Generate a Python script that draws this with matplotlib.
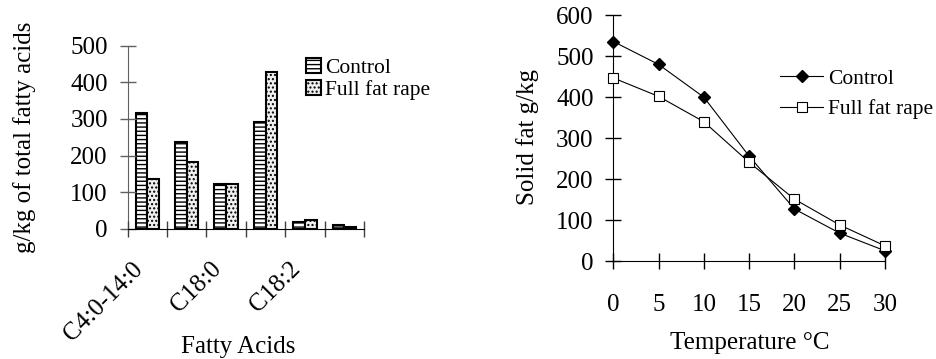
import matplotlib
matplotlib.use('Agg')
import matplotlib.pyplot as plt
from matplotlib.patches import Patch
from matplotlib.lines import Line2D
import numpy as np

# ---- data ----
fatty_acids = ["C4:0-14:0", "C16:0", "C18:0", "C18:1", "C18:2", "C18:3"]
fa_control = [317, 238, 122, 291, 19, 10]
fa_rape = [136, 181, 123, 428, 24, 5]

temps = [0, 5, 10, 15, 20, 25, 30]
sf_control = [536, 480, 400, 256, 127, 68, 25]
sf_rape = [447, 402, 340, 241, 151, 88, 37]

series_names = ["Control", "Full fat rape"]
fa_yticks = [0, 100, 200, 300, 400, 500]
sf_yticks = [0, 100, 200, 300, 400, 500, 600]

plt.rcParams['font.family'] = ['Liberation Serif', 'DejaVu Serif']
plt.rcParams['hatch.linewidth'] = 1.0

W, H = 936, 359
fig = plt.figure(figsize=(W / 100, H / 100), dpi=100)

def px_axes(l, t, r, b):
    return fig.add_axes([l / W, 1 - b / H, (r - l) / W, (b - t) / H])

FS = 18
LFS = 15.5
RAPE_FACE = '#f0f0f0'
RAPE_HATCH = '....'

# ---------------- left chart ----------------
ax1 = px_axes(127.7, 45.7, 364, 228.7)
x = np.arange(len(fatty_acids))
bw = 0.297
ax1.bar(x - bw / 2, fa_control, bw, facecolor='white', edgecolor='black',
        hatch='----', linewidth=1.5)
ax1.bar(x + bw / 2, fa_rape, bw, facecolor=RAPE_FACE, edgecolor='black',
        hatch=RAPE_HATCH, linewidth=1.5)
ax1.set_xlim(-0.5, len(fatty_acids) - 0.5)
ax1.set_ylim(0, 500)
ax1.set_yticks(fa_yticks)
ax1.set_xticks(np.arange(len(fatty_acids) + 1) - 0.5, labels=[''] * (len(fatty_acids) + 1))
ax1.set_xticks(x[::2], labels=fatty_acids[::2], minor=True, rotation=45, ha='right')
for s in ['top', 'right']:
    ax1.spines[s].set_visible(False)
ax1.spines['left'].set_color('#606060')
ax1.spines['bottom'].set_color('black')
ax1.tick_params(axis='y', direction='inout', length=11.5, width=1, pad=8.6,
                labelsize=FS, colors='black')
ax1.tick_params(axis='y', color='#606060')
ax1.tick_params(axis='x', which='major', direction='inout', length=11.5, width=1, color='#404040')
ax1.tick_params(axis='x', which='minor', length=0, pad=21, labelsize=FS)
ax1.spines['left'].set_zorder(0)

leg1_handles = [Patch(facecolor='white', edgecolor='black', hatch='----', linewidth=1.5),
                Patch(facecolor=RAPE_FACE, edgecolor='black', hatch=RAPE_HATCH, linewidth=1.5)]
ax1.legend(leg1_handles, series_names, loc='upper left',
           bbox_to_anchor=(306 / W, 1 - 58 / H), bbox_transform=fig.transFigure,
           frameon=False, fontsize=LFS, handlelength=0.7, handleheight=0.7,
           handletextpad=0.2, labelspacing=0.1, borderpad=0, borderaxespad=0)

fig.text(25 / W, 1 - 137 / H, 'g/kg of total fatty acids', rotation=90,
         ha='center', va='center', fontsize=FS)
fig.text(238 / W, 1 - 347 / H, 'Fatty Acids', ha='center', va='center', fontsize=FS)

# ---------------- right chart ----------------
ax2 = px_axes(613.3, 15.3, 885, 261)
ax2.plot(temps, sf_control, '-', color='black', lw=0.8, marker='D', ms=6.5,
         mfc='black', mec='black', clip_on=False, zorder=3)
ax2.plot(temps, sf_rape, '-', color='black', lw=0.8, marker='s', ms=7,
         mfc='white', mec='black', mew=0.8, clip_on=False, zorder=4)
ax2.set_xlim(0, 30)
ax2.set_ylim(0, 600)
ax2.set_xticks(temps)
ax2.set_yticks(sf_yticks)
for s in ['top', 'right']:
    ax2.spines[s].set_visible(False)
ax2.tick_params(axis='both', direction='inout', length=11, width=1, labelsize=FS)
ax2.tick_params(axis='y', pad=8.6)
ax2.tick_params(axis='x', pad=18.6)

leg2_handles = [Line2D([], [], color='black', lw=0.8, marker='D', ms=6.5, mfc='black', mec='black'),
                Line2D([], [], color='black', lw=0.8, marker='s', ms=7, mfc='white', mec='black', mew=0.8)]
ax2.legend(leg2_handles, series_names, loc='upper left',
           bbox_to_anchor=(780 / W, 1 - 68.5 / H), bbox_transform=fig.transFigure,
           frameon=False, fontsize=LFS, handlelength=2.0, handletextpad=0.23,
           labelspacing=0.5, borderpad=0, borderaxespad=0)

fig.text(528 / W, 1 - 137 / H, 'Solid fat g/kg', rotation=90,
         ha='center', va='center', fontsize=FS)
fig.text(750 / W, 1 - 343 / H, 'Temperature °C', ha='center', va='center', fontsize=FS)

fig.savefig('out.png', dpi=100)
